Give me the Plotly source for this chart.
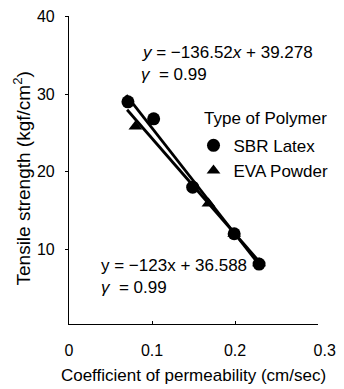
import plotly.graph_objects as go

# Data
sbr_x = [0.071, 0.102, 0.149, 0.199, 0.229]
sbr_y = [29.0, 26.8, 18.0, 12.0, 8.1]
eva_x = [0.080, 0.168, 0.199, 0.229]
eva_y = [25.8, 15.9, 12.0, 8.2]

# Regression lines (slope, intercept, x-extent)
sbr_fit = (-136.52, 39.278)
eva_fit = (-123.0, 36.588)
sbr_fit_x = [0.069, 0.230]
eva_fit_x = [0.070, 0.230]

x_ticks = [0, 0.1, 0.2, 0.3]
x_tick_text = ["0", "0.1", "0.2", "\u00a0\u00a0\u00a00.3"]
y_ticks = [10, 20, 30, 40]

FONT = "Liberation Sans, Arial, Helvetica, sans-serif"
FS = 17

fig = go.Figure()

fig.add_trace(go.Scatter(
    x=sbr_fit_x, y=[sbr_fit[0] * v + sbr_fit[1] for v in sbr_fit_x],
    mode="lines", line=dict(color="black", width=2.8), showlegend=False, hoverinfo="skip"))
fig.add_trace(go.Scatter(
    x=eva_fit_x, y=[eva_fit[0] * v + eva_fit[1] for v in eva_fit_x],
    mode="lines", line=dict(color="black", width=2.8), showlegend=False, hoverinfo="skip"))

fig.add_trace(go.Scatter(
    x=sbr_x, y=sbr_y, mode="markers", name="SBR Latex",
    marker=dict(symbol="circle", size=13, color="black")))
fig.add_trace(go.Scatter(
    x=eva_x, y=eva_y, mode="markers", name="EVA Powder",
    marker=dict(symbol="triangle-up", size=12, color="black")))

ann_font = dict(family=FONT, size=FS, color="black")
fig.add_annotation(x=0.085, y=35.4, xanchor="left", yanchor="middle", showarrow=False,
                   text="<i>y</i> = −136.52<i>x</i> + 39.278", font=ann_font)
fig.add_annotation(x=0.084, y=32.5, xanchor="left", yanchor="middle", showarrow=False,
                   text="<i>γ</i>  = 0.99", font=ann_font)
fig.add_annotation(x=0.0356, y=7.9, xanchor="left", yanchor="middle", showarrow=False,
                   text="y = −123x + 36.588", font=ann_font)
fig.add_annotation(x=0.0356, y=5.1, xanchor="left", yanchor="middle", showarrow=False,
                   text="<i>γ</i>  = 0.99", font=ann_font)
fig.add_annotation(x=0.160, y=26.9, xanchor="left", yanchor="middle", showarrow=False,
                   text="Type of Polymer", font=ann_font)
# y-axis title (placed as rotated text so it can sit where the original does)
fig.add_annotation(xref="paper", yref="paper", x=-0.188, y=0.473,
                   xanchor="center", yanchor="middle", showarrow=False, textangle=-90,
                   text="Tensile strength (kgf/cm<sup>2</sup>)",
                   font=dict(family=FONT, size=19, color="black"))

fig.update_layout(
    width=344, height=389,
    margin=dict(l=69, r=14, t=8, b=64),
    paper_bgcolor="white", plot_bgcolor="white",
    font=dict(family=FONT, size=FS, color="black"),
    showlegend=True,
    legend=dict(x=0.5, xanchor="left", y=0.637, yanchor="top",
                bgcolor="rgba(0,0,0,0)", font=dict(family=FONT, size=FS),
                tracegroupgap=0, itemwidth=30),
    xaxis=dict(range=[0, 0.3], tickvals=x_ticks, ticktext=x_tick_text,
               showgrid=False, zeroline=False, showline=True, linecolor="black", linewidth=1.2,
               ticks="inside", ticklen=3, tickcolor="black", ticklabelstandoff=12,
               tickfont=dict(family=FONT, size=16),
               title=dict(text="Coefficient of permeability (cm/sec)", standoff=10,
                          font=dict(family=FONT, size=FS))),
    yaxis=dict(range=[0.375, 40.05], tickvals=y_ticks,
               showgrid=False, zeroline=False, showline=True, linecolor="black", linewidth=1.2,
               ticks="outside", ticklen=3, tickcolor="black", ticklabelstandoff=7,
               tickfont=dict(family=FONT, size=16)),
)

fig.write_html("out.html", config={"displayModeBar": False},
               post_script="document.body.style.margin='0';document.body.style.overflow='hidden';")
